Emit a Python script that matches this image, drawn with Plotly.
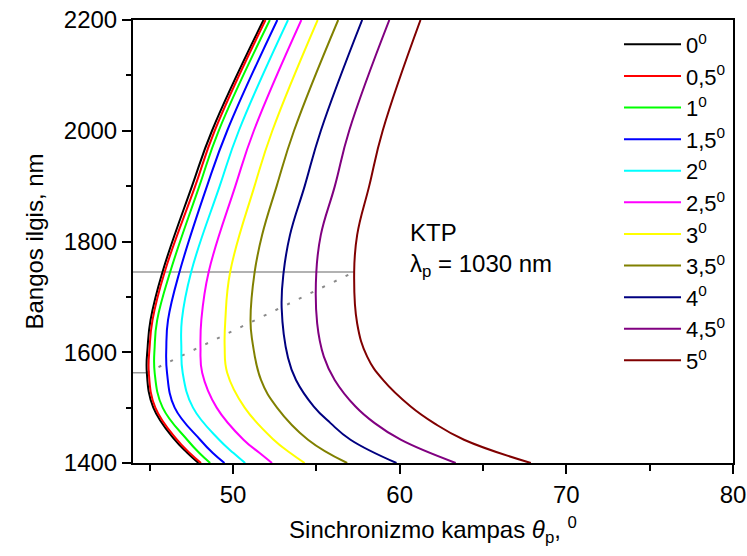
import plotly.graph_objects as go

# Phase-matching angle (deg) vs. idler wavelength (nm) in KTP, pump at 1030 nm,
# one curve per angle phi.
SERIES_NAMES = ["0<sup>0</sup>", "0,5<sup>0</sup>", "1<sup>0</sup>", "1,5<sup>0</sup>",
                "2<sup>0</sup>", "2,5<sup>0</sup>", "3<sup>0</sup>", "3,5<sup>0</sup>",
                "4<sup>0</sup>", "4,5<sup>0</sup>", "5<sup>0</sup>"]
SERIES_COLORS = ["#000000", "#ff0000", "#00ff00", "#0000ff", "#00ffff", "#ff00ff",
                 "#ffff00", "#808000", "#000080", "#800080", "#800000"]

LAMBDA_A = [1400, 1418, 1442, 1500, 1563, 1610, 1658, 1745, 1900, 2000, 2200]
THETA_00 = [47.93, 47.27, 46.50, 45.22, 44.83, 44.88, 45.05, 45.77, 47.54, 48.74, 51.83]
THETA_05 = [48.08, 47.40, 46.64, 45.34, 44.95, 45.00, 45.17, 45.90, 47.73, 48.90, 51.95]
THETA_10 = [48.63, 47.98, 47.25, 45.78, 45.30, 45.30, 45.45, 46.23, 47.98, 49.14, 52.21]
THETA_15 = [49.49, 48.79, 48.03, 46.50, 46.04, 46.00, 46.10, 46.79, 48.44, 49.65, 52.66]
THETA_20 = [50.73, 50.03, 49.17, 47.60, 46.98, 46.90, 46.93, 47.49, 49.20, 50.35, 53.30]
THETA_25 = [52.34, 51.60, 50.63, 49.02, 48.15, 48.05, 48.10, 48.54, 50.14, 51.25, 54.10]
THETA_30 = [54.30, 53.44, 52.44, 50.70, 49.65, 49.50, 49.54, 49.83, 51.29, 52.36, 55.08]

LAMBDA_35 = [1400, 1442, 1500, 1550, 1622, 1658, 1745, 1812, 1900, 2000, 2200]
THETA_35 = [56.85, 54.50, 52.64, 51.68, 51.15, 51.05, 51.30, 51.75, 52.62, 53.66, 56.31]

LAMBDA_40 = [1400, 1442, 1472, 1502, 1550, 1590, 1680, 1745, 1812, 1900, 2000, 2200]
THETA_40 = [59.81, 57.05, 55.85, 54.85, 53.78, 53.30, 52.92, 53.04, 53.42, 54.30, 55.27, 57.75]

LAMBDA_B = [1400, 1442, 1472, 1502, 1550, 1592, 1652, 1745, 1812, 1900, 2000, 2200]
THETA_45 = [63.36, 60.06, 58.50, 57.35, 56.10, 55.45, 55.05, 55.00, 55.27, 56.11, 56.97, 59.38]
THETA_50 = [67.87, 63.86, 62.06, 60.66, 59.00, 58.05, 57.45, 57.27, 57.45, 58.17, 58.98, 61.25]

SERIES_LAMBDA = [LAMBDA_A] * 7 + [LAMBDA_35, LAMBDA_40, LAMBDA_B, LAMBDA_B]
SERIES_THETA = [THETA_00, THETA_05, THETA_10, THETA_15, THETA_20, THETA_25, THETA_30,
                THETA_35, THETA_40, THETA_45, THETA_50]

# Turning points of the 0 deg and 5 deg curves (guide lines)
TURN_THETA = [44.83, 57.27]
TURN_LAMBDA = [1563, 1745]
X_MIN, X_MAX = 44, 80
Y_MIN, Y_MAX = 1400, 2200

FONT = "Arial, 'Liberation Sans', sans-serif"

fig = go.Figure()

# guide lines from the axis to the turning points
for th, lam in zip(TURN_THETA, TURN_LAMBDA):
    fig.add_trace(go.Scatter(x=[X_MIN, th], y=[lam, lam], mode="lines",
                             line=dict(color="#999999", width=1.5),
                             showlegend=False, hoverinfo="skip"))
# dotted locus joining the turning points
fig.add_trace(go.Scatter(x=TURN_THETA, y=TURN_LAMBDA, mode="lines",
                         line=dict(color="#8a8a8a", width=2, dash="3px,10px"),
                         showlegend=False, hoverinfo="skip"))

for name, color, lam, th in zip(SERIES_NAMES, SERIES_COLORS, SERIES_LAMBDA, SERIES_THETA):
    fig.add_trace(go.Scatter(x=th, y=lam, mode="lines", name=name,
                             line=dict(color=color, width=2, shape="spline", smoothing=1.2)))

axis_common = dict(
    showline=True, linecolor="black", linewidth=2, mirror=True,
    ticks="outside", ticklen=9, tickwidth=2, tickcolor="black",
    showgrid=False, zeroline=False, automargin=False,
    tickfont=dict(family=FONT, size=24, color="black"),
)

fig.update_xaxes(range=[X_MIN, X_MAX], tick0=50, dtick=10,
                 minor=dict(ticks="outside", ticklen=6, tickwidth=2, tickcolor="black",
                            tick0=45, dtick=5),
                 title=dict(text="Sinchronizmo kampas <i>θ</i><sub>p</sub>, <sup>0</sup>",
                            font=dict(family=FONT, size=24, color="black"), standoff=14),
                 **axis_common)
fig.update_yaxes(range=[Y_MIN, Y_MAX], tick0=1400, dtick=200,
                 minor=dict(ticks="outside", ticklen=5, tickwidth=2, tickcolor="black",
                            tick0=1400, dtick=100),
                 title=dict(text="Bangos ilgis, nm",
                            font=dict(family=FONT, size=24, color="black"), standoff=13),
                 **axis_common)

fig.add_annotation(x=60.5, y=1817, xref="x", yref="y", text="KTP", showarrow=False,
                   xanchor="left", yanchor="middle",
                   font=dict(family=FONT, size=24, color="black"))
fig.add_annotation(x=60.5, y=1757, xref="x", yref="y", text="λ<sub>p</sub> = 1030 nm",
                   showarrow=False, xanchor="left", yanchor="middle",
                   font=dict(family=FONT, size=24, color="black"))

fig.update_layout(
    width=747, height=556,
    margin=dict(l=133, r=14, t=20, b=93),
    paper_bgcolor="white", plot_bgcolor="white",
    showlegend=True,
    legend=dict(x=0.81, y=0.992, xanchor="left", yanchor="top",
                bgcolor="rgba(0,0,0,0)", borderwidth=0,
                font=dict(family=FONT, size=22, color="black"),
                itemwidth=57, tracegroupgap=0),
)

fig.write_html("out.html")
